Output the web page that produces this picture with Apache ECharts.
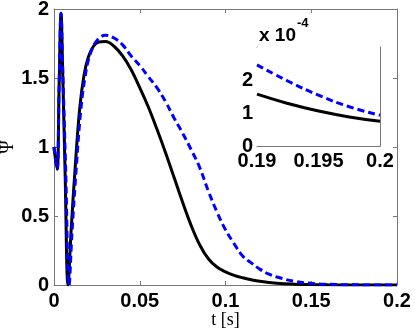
<!DOCTYPE html>
<html>
<head>
<meta charset="utf-8">
<script src="https://cdn.jsdelivr.net/npm/echarts@6/dist/echarts.min.js"></script>
<style>
html, body { margin: 0; padding: 0; background: #fff; }
#chart { width: 415px; height: 336px; }
</style>
</head>
<body>
<div id="chart"></div>
<script>
// main plot, black solid curve
var tBlack = [0, 0.001, 0.0019, 0.003, 0.0041, 0.005, 0.0065, 0.0082, 0.010, 0.0125, 0.015, 0.0175, 0.02, 0.023, 0.026, 0.03, 0.035, 0.04, 0.045, 0.05, 0.055, 0.06, 0.065, 0.07, 0.075, 0.08, 0.085, 0.09, 0.095, 0.1, 0.105, 0.11, 0.115, 0.12, 0.13, 0.14, 0.15, 0.16, 0.18, 0.2];
var psiBlack = [1.0, 0.9, 0.84, 1.45, 1.97, 1.58, 0.8, 0.0, 0.4, 0.88, 1.28, 1.52, 1.65, 1.73, 1.76, 1.765, 1.73, 1.66, 1.56, 1.43, 1.29, 1.13, 0.96, 0.78, 0.6, 0.43, 0.29, 0.19, 0.13, 0.095, 0.07, 0.052, 0.038, 0.027, 0.013, 0.006, 0.003, 0.0012, 0.0004, 0.00008];

// main plot, blue dashed curve
var tBlue = [0, 0.001, 0.0019, 0.003, 0.0041, 0.005, 0.0068, 0.0088, 0.0105, 0.013, 0.0155, 0.018, 0.021, 0.025, 0.03, 0.035, 0.04, 0.045, 0.05, 0.055, 0.06, 0.065, 0.07, 0.075, 0.08, 0.085, 0.09, 0.095, 0.1, 0.105, 0.11, 0.115, 0.12, 0.125, 0.13, 0.14, 0.15, 0.16, 0.17, 0.18, 0.2];
var psiBlue = [1.0, 0.9, 0.84, 1.45, 1.97, 1.6, 0.84, 0.0, 0.38, 0.85, 1.25, 1.5, 1.67, 1.77, 1.81, 1.79, 1.74, 1.66, 1.59, 1.51, 1.43, 1.33, 1.21, 1.1, 0.98, 0.85, 0.68, 0.53, 0.4, 0.3, 0.21, 0.16, 0.115, 0.08, 0.058, 0.027, 0.012, 0.005, 0.002, 0.0008, 0.0001];

// inset (t from 0.19 to 0.2)
var insetT = [0.19, 0.1925, 0.195, 0.1975, 0.2];
var insetBlack = [1.57e-4, 1.29e-4, 1.06e-4, 0.88e-4, 0.75e-4];
var insetBlue = [2.46e-4, 1.97e-4, 1.54e-4, 1.19e-4, 0.93e-4];

var mainTicksX = [0, 0.2, 0.05];
var mainTicksY = [0, 2, 0.5];
var insetTicksX = [0.19, 0.2, 0.005];
var insetTicksY = [0, 3e-4, 1e-4];

function pairs(t, v) {
	var out = [];
	for (var i = 0; i < t.length; i++) out.push([t[i], v[i]]);
	return out;
}

var axisColor = '#777';
var tickFont = {
	color: '#000',
	fontSize: 20,
	fontWeight: 'bold',
	fontFamily: 'Liberation Sans, Arial, sans-serif'
};
var serif = 'Liberation Serif, DejaVu Serif, serif';

function frameAxis(gridIndex, position, ticks, tickLen) {
	return {
		type: 'value',
		gridIndex: gridIndex,
		position: position,
		min: ticks[0],
		max: ticks[1],
		interval: ticks[2],
		axisLine: { show: true, onZero: false, lineStyle: { color: axisColor, width: 1 } },
		axisTick: { show: true, inside: true, length: tickLen, lineStyle: { color: axisColor } },
		axisLabel: { show: false },
		splitLine: { show: false }
	};
}

var xMain = frameAxis(0, 'bottom', mainTicksX, 4);
xMain.axisLabel = Object.assign({ show: true, margin: 6 }, tickFont);
xMain.name = 't [s]';
xMain.nameLocation = 'middle';
xMain.nameGap = 26;
xMain.nameMoveOverlap = false;
xMain.nameTextStyle = { color: '#000', fontSize: 18, fontFamily: serif };

var yMain = frameAxis(0, 'left', mainTicksY, 4);
yMain.axisLabel = Object.assign({ show: true, margin: 5 }, tickFont);
yMain.name = 'Ψ';
yMain.nameLocation = 'middle';
yMain.nameGap = 37;
yMain.nameMoveOverlap = false;
yMain.nameTextStyle = { color: '#000', fontSize: 18, fontFamily: serif };

var xInset = frameAxis(1, 'bottom', insetTicksX, 3);
xInset.axisLabel = Object.assign({ show: true, margin: 5 }, tickFont);

var yInset = frameAxis(1, 'left', insetTicksY, 3);
yInset.axisLabel = Object.assign({
	show: true,
	margin: 4,
	showMaxLabel: false,
	formatter: function (v) { return String(Math.round(v * 1e4)); }
}, tickFont);

var myChart = echarts.init(document.getElementById('chart'));
var option = {
	animation: false,
	backgroundColor: '#fff',
	grid: [
		{ left: 54, right: 18, top: 9, bottom: 51, containLabel: false, outerBoundsMode: 'none' },
		{ left: 257, top: 47, width: 123, height: 99, containLabel: false, outerBoundsMode: 'none', show: true, backgroundColor: '#fff', borderWidth: 0, z: 5 }
	],
	xAxis: [xMain, frameAxis(0, 'top', mainTicksX, 4), xInset, frameAxis(1, 'top', insetTicksX, 3)],
	yAxis: [yMain, frameAxis(0, 'right', mainTicksY, 4), yInset, frameAxis(1, 'right', insetTicksY, 3)],
	graphic: [{
		type: 'text',
		left: 259,
		top: 26,
		style: { text: 'x 10', fill: '#000', font: 'bold 19px Liberation Sans, Arial, sans-serif' }
	}, {
		type: 'text',
		left: 297,
		top: 17,
		style: { text: '-4', fill: '#000', font: 'bold 13px Liberation Sans, Arial, sans-serif' }
	}],
	series: [{
		name: 'black',
		type: 'line',
		xAxisIndex: 0,
		yAxisIndex: 0,
		data: pairs(tBlack, psiBlack),
		showSymbol: false,
		smooth: 0.4,
		lineStyle: { color: '#000', width: 3 }
	}, {
		name: 'blue',
		type: 'line',
		xAxisIndex: 0,
		yAxisIndex: 0,
		data: pairs(tBlue, psiBlue),
		showSymbol: false,
		smooth: 0.4,
		lineStyle: { color: '#0000ff', width: 3, type: [7, 4] }
	}, {
		name: 'black inset',
		type: 'line',
		xAxisIndex: 2,
		yAxisIndex: 2,
		data: pairs(insetT, insetBlack),
		showSymbol: false,
		smooth: true,
		z: 6,
		lineStyle: { color: '#000', width: 3 }
	}, {
		name: 'blue inset',
		type: 'line',
		xAxisIndex: 2,
		yAxisIndex: 2,
		data: pairs(insetT, insetBlue),
		showSymbol: false,
		smooth: true,
		z: 6,
		lineStyle: { color: '#0000ff', width: 3, type: [7, 4] }
	}]
};
myChart.setOption(option);
</script>
</body>
</html>
